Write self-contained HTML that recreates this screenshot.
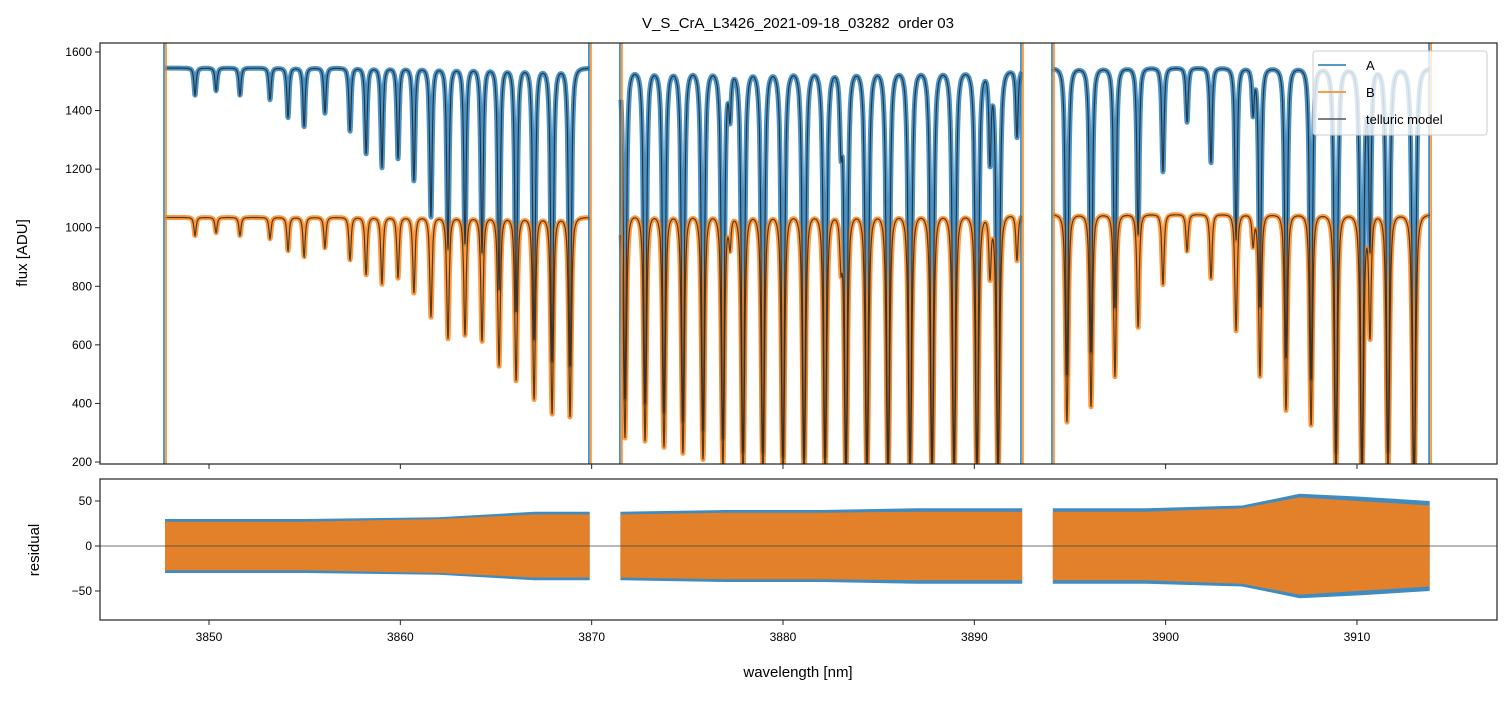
<!DOCTYPE html>
<html><head><meta charset="utf-8"><style>
body{margin:0;background:#fff}
svg{font-family:"Liberation Sans","DejaVu Sans",sans-serif}
</style></head><body>
<svg id="chart" width="1510" height="696" viewBox="0 0 1510 696">
<defs>
<clipPath id="clipTop"><rect x="100" y="43" width="1397" height="421"/></clipPath>
<clipPath id="clipBot"><rect x="100" y="479" width="1397" height="141"/></clipPath>
</defs>
<text x="798" y="28" text-anchor="middle" font-size="15" fill="#000" style="white-space:pre">V_S_CrA_L3426_2021-09-18_03282  order 03</text>
<g id="topG" clip-path="url(#clipTop)"></g>
<g id="botG" clip-path="url(#clipBot)"></g>
<g id="axesG"></g>
<text x="27" y="253" transform="rotate(-90 27 253)" text-anchor="middle" font-size="15">flux [ADU]</text>
<text x="39" y="550" transform="rotate(-90 39 550)" text-anchor="middle" font-size="15">residual</text>
<text x="798" y="677" text-anchor="middle" font-size="15">wavelength [nm]</text>
<g id="legendG">
<rect x="1313" y="51" width="174" height="84" rx="3" fill="#fff" fill-opacity="0.8" stroke="#ccc"/>
<line x1="1318" y1="65" x2="1346" y2="65" stroke="#1f77b4" stroke-width="1.5"/>
<text x="1366" y="70" font-size="13">A</text>
<line x1="1318" y1="92" x2="1346" y2="92" stroke="#ff7f0e" stroke-width="1.5"/>
<text x="1366" y="97" font-size="13">B</text>
<line x1="1318" y1="119" x2="1346" y2="119" stroke="#555" stroke-width="1.5"/>
<text x="1366" y="124" font-size="13">telluric model</text>
</g>
</svg>
<script>
// ---- data ----
const segStart = [3847.70, 3871.53, 3894.11];
const segEnd   = [3869.91, 3892.49, 3913.82];
const lineWl = [3849.27,3850.37,3851.62,3853.19,3854.13,3854.97,3856.06,3857.37,3858.21,3859.04,3859.88,3860.71,3861.60,3862.49,3863.38,3864.27,3865.16,3866.05,3866.99,3867.93,3868.87,
 3871.74,3872.79,3873.78,3874.77,3875.82,3876.86,3877.23,3877.91,3878.95,3880.00,3881.10,3882.20,3883.03,3883.29,3884.39,3885.49,3886.64,3887.79,3888.94,3890.14,3890.82,3891.24,3892.23,
 3894.84,3896.10,3897.35,3898.56,3899.86,3901.12,3902.37,3903.68,3904.57,3904.93,3906.29,3907.60,3908.90,3910.26,3910.68,3911.62,3912.98];
const lineT = [0.94,0.95,0.94,0.93,0.89,0.87,0.90,0.86,0.81,0.78,0.80,0.75,0.67,0.60,0.61,0.59,0.51,0.46,0.40,0.35,0.34,
 0.27,0.26,0.24,0.22,0.20,0.18,0.90,0.15,0.15,0.14,0.14,0.14,0.85,0.13,0.13,0.13,0.13,0.13,0.13,0.13,0.80,0.13,0.85,
 0.32,0.37,0.47,0.63,0.77,0.88,0.79,0.62,0.90,0.47,0.36,0.31,0.15,0.12,0.60,0.15,0.10];
const contA = [1545, 1540, 1545];
const contB = [1035, 1045, 1045];
const resWl   = [3847.7,3855,3862,3867,3869.9, 3871.5,3877,3882,3887,3892.5, 3894.1,3899,3904,3907,3910,3913.8];
const resAmpA = [30,30,32,38,38, 38,40,40,42,42, 42,42,45,58,55,50];
const resAmpB = [27,27,30,35,35, 35,37,37,38,38, 38,38,42,54,50,45];
const xTicks = [3850,3860,3870,3880,3890,3900,3910];
const yTicks = [200,400,600,800,1000,1200,1400,1600];
const rTicks = [-50,0,50];
// ---- scales ----
const xs = w => 209 + (w-3850)*19.133;
const ys = f => 462 - (f-200)*0.29286;
const yr = r => 546 - r*0.9;
const NS='http://www.w3.org/2000/svg';
function mk(tag, attrs, parent){const e=document.createElementNS(NS,tag);for(const k in attrs)e.setAttribute(k,attrs[k]);parent.appendChild(e);return e;}
const topG=document.getElementById('topG'), botG=document.getElementById('botG'), axesG=document.getElementById('axesG');
const gam=0.085;
function trans(w){let tau=0;for(let i=0;i<lineWl.length;i++){const d=w-lineWl[i];if(Math.abs(d)>1.5)continue;const u=d/gam;tau+=-Math.log(lineT[i])*Math.pow(1+u*u,-1.5);}return Math.exp(-tau);}
for(let s=0;s<3;s++){
  let pa='',pb='';
  for(let w=segStart[s];w<=segEnd[s];w+=0.015){
    const t=trans(w), X=xs(w).toFixed(1);
    const c=pa?'L':'M';
    pa+=c+X+','+ys(contA[s]*t).toFixed(1);
    pb+=c+X+','+ys(contB[s]*t).toFixed(1);
  }
  const a=mk('path',{d:pa,fill:'none',stroke:'#1f77b4','stroke-width':5,'stroke-opacity':0.8,'stroke-linejoin':'round'},topG);
  
  
  const b=mk('path',{d:pb,fill:'none',stroke:'#ff7f0e','stroke-width':5,'stroke-opacity':0.8,'stroke-linejoin':'round'},topG);
  
  
  const m1=mk('path',{d:pa,fill:'none',stroke:'#1a2a3a','stroke-width':1.2,'stroke-opacity':0.85},topG);
  
  
  const m2=mk('path',{d:pb,fill:'none',stroke:'#3a2a1a','stroke-width':1.2,'stroke-opacity':0.85},topG);
  
  
  [segStart[s],segEnd[s]].forEach(w=>{
    const v1=mk('line',{x1:xs(w)-1,x2:xs(w)-1,y1:43,y2:464,stroke:'#1f77b4','stroke-width':1.5},topG);
    
    
    const v2=mk('line',{x1:xs(w)+1,x2:xs(w)+1,y1:43,y2:464,stroke:'#ff7f0e','stroke-width':1.5},topG);
    
    
  });
}
// residual bands
for(let s=0;s<3;s++){
  const idx=[];for(let i=0;i<resWl.length;i++)if(resWl[i]>=segStart[s]-0.05&&resWl[i]<=segEnd[s]+0.05)idx.push(i);
  [[resAmpA,'#1f77b4','residual-band-a'],[resAmpB,'#ff7f0e','residual-band-b']].forEach(([amp,col,nm])=>{
    let p='';idx.forEach((i,k)=>{p+=(k?'L':'M')+xs(resWl[i]).toFixed(1)+','+yr(amp[i]).toFixed(1);});
    idx.slice().reverse().forEach(i=>{p+='L'+xs(resWl[i]).toFixed(1)+','+yr(-amp[i]).toFixed(1);});
    const e=mk('path',{d:p+'Z',fill:col,'fill-opacity':0.85},botG);
    
    
  });
}
const z=mk('line',{x1:100,x2:1497,y1:yr(0),y2:yr(0),stroke:'#444','stroke-width':0.7},botG);


// axes frames
[[43,421,'flux-axes-frame'],[479,141,'residual-axes-frame']].forEach(([y,h,nm])=>{
  const r=mk('rect',{x:100,y:y,width:1397,height:h,fill:'none',stroke:'#222','stroke-width':1.2},axesG);
  
  
});
xTicks.forEach(v=>{
  const X=xs(v);
  mk('line',{x1:X,x2:X,y1:464,y2:469,stroke:'#222'},axesG);
  mk('line',{x1:X,x2:X,y1:620,y2:625,stroke:'#222'},axesG);
  const t=mk('text',{x:X,y:641,'text-anchor':'middle','font-size':12},axesG);t.textContent=v;
  
  
});
yTicks.forEach(v=>{
  const Y=ys(v);
  mk('line',{x1:95,x2:100,y1:Y,y2:Y,stroke:'#222'},axesG);
  const t=mk('text',{x:92,y:Y+4,'text-anchor':'end','font-size':12},axesG);t.textContent=v;
  
  
});
rTicks.forEach(v=>{
  const Y=yr(v);
  mk('line',{x1:95,x2:100,y1:Y,y2:Y,stroke:'#222'},axesG);
  const t=mk('text',{x:92,y:Y+4,'text-anchor':'end','font-size':12},axesG);t.textContent=v===-50?'\u221250':v;
  
  
});
document.getElementById('chart').appendChild(document.getElementById('legendG'));
</script>
</body></html>
